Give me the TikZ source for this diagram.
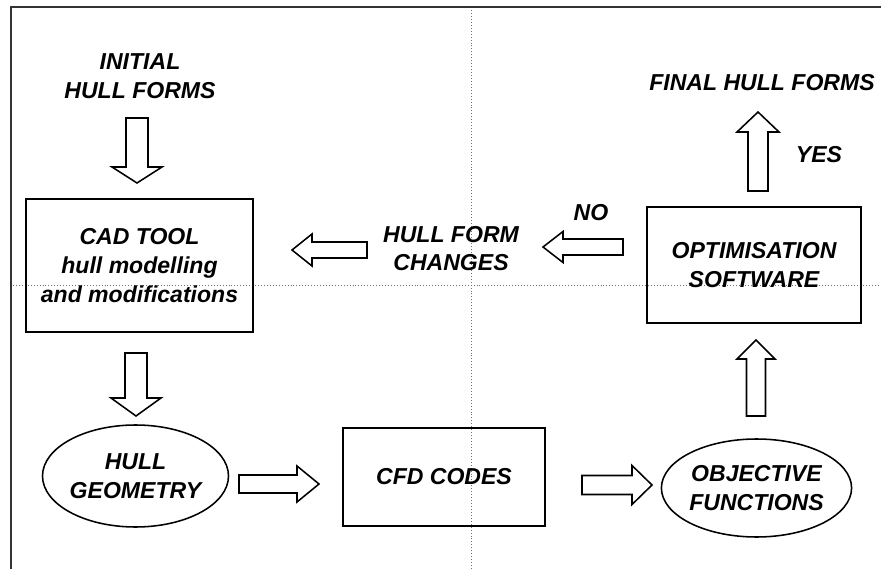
\documentclass[tikz,border=0pt]{standalone}
\usepackage{fontspec}
\setmainfont{Liberation Sans}
\usetikzlibrary{positioning,calc,shapes.geometric}
\definecolor{framegray}{HTML}{333333}
\definecolor{guidegray}{HTML}{707070}
\tikzset{
  flowtext/.style={font=\fontsize{16.4}{20.5}\selectfont\bfseries\itshape,
    align=center,inner sep=0pt},
  procbox/.style={draw,line width=1.4pt,inner sep=0pt},
  oval/.style={ellipse,draw,line width=1.1pt,inner sep=0pt},
  guide/.style={guidegray,line width=0.7pt,dash pattern=on 0.7pt off 1.4pt},
  blockarrow/.style={draw,line width=1.1pt,line join=miter,fill=white}
}
% hollow block arrow: from, to, half shaft, half head, head length
\newcommand{\hollowarrow}[5]{%
  \coordinate (hb) at ($(#2)!#5!(#1)$);
  \draw[blockarrow] ($(#1)!#3!90:(#2)$) -- ($(hb)!#3!90:(#2)$)
    -- ($(hb)!#4!90:(#2)$) -- (#2) -- ($(hb)!#4!-90:(#2)$)
    -- ($(hb)!#3!-90:(#2)$) -- ($(#1)!#3!-90:(#2)$) -- cycle;}

\begin{document}
\begin{tikzpicture}
  \useasboundingbox (0,0) rectangle (22.025,14.225);
  \draw[framegray,line width=1.4pt] (0.275,0) -- (0.275,14.05) -- (22.025,14.05);
  \draw[guide] (11.775,0) -- (11.775,13.975);
  \draw[guide] (0.325,7.1) -- (22.025,7.1);

  \node[flowtext] (init) at (3.5,12.325) {INITIAL\\HULL FORMS};
  \node[procbox,flowtext,minimum width=5.675cm,minimum height=3.325cm] (cad)
    at (3.4875,7.5875) {CAD TOOL\\hull modelling\\and modifications};
  \node[oval,flowtext,minimum width=4.625cm,minimum height=2.55cm] (geom)
    at (3.3875,2.325) {HULL\\GEOMETRY};
  \node[procbox,flowtext,minimum width=5.05cm,minimum height=2.45cm] (cfd)
    at (11.1,2.3) {CFD CODES};
  \node[oval,flowtext,minimum width=4.525cm,minimum height=2.45cm] (obj)
    at (18.9125,2.025) {OBJECTIVE\\FUNCTIONS};
  \node[procbox,flowtext,minimum width=5.35cm,minimum height=2.9cm] (opt)
    at (18.85,7.6) {OPTIMISATION\\SOFTWARE};
  \node[flowtext] (final) at (19.05,12.15) {FINAL HULL FORMS};
  \node[flowtext] (changes) at (11.275,8.0125) {HULL FORM\\CHANGES};
  \node[flowtext] (no) at (14.775,8.9) {NO};
  \node[flowtext] (yes) at (20.475,10.35) {YES};

  \coordinate (initout) at (3.425,11.275);
  \coordinate (cadin) at (3.425,9.65);
  \coordinate (cadout) at (3.4,5.4);
  \coordinate (geomin) at (3.4,3.825);
  \coordinate (geomout) at (5.975,2.125);
  \coordinate (cfdin) at (7.975,2.125);
  \coordinate (cfdout) at (14.55,2.1);
  \coordinate (objin) at (16.3,2.1);
  \coordinate (objout) at (18.9,3.825);
  \coordinate (optin) at (18.9,5.725);
  \coordinate (optup) at (18.95,9.45);
  \coordinate (finalin) at (18.95,11.425);
  \coordinate (optleft) at (15.575,8.05);
  \coordinate (changesin) at (13.575,8.05);
  \coordinate (changesout) at (9.175,7.975);
  \coordinate (cadright) at (7.3,7.975);

  \hollowarrow{initout}{cadin}{0.275cm}{0.625cm}{0.4cm}
  \hollowarrow{cadout}{geomin}{0.275cm}{0.625cm}{0.45cm}
  \hollowarrow{geomout}{cfdin}{0.225cm}{0.45cm}{0.55cm}
  \hollowarrow{cfdout}{objin}{0.2375cm}{0.4875cm}{0.5cm}
  \hollowarrow{objout}{optin}{0.2375cm}{0.475cm}{0.475cm}
  \hollowarrow{optup}{finalin}{0.25cm}{0.525cm}{0.5cm}
  \hollowarrow{optleft}{changesin}{0.2cm}{0.3875cm}{0.5cm}
  \hollowarrow{changesout}{cadright}{0.2cm}{0.4cm}{0.5cm}
\end{tikzpicture}
\end{document}
